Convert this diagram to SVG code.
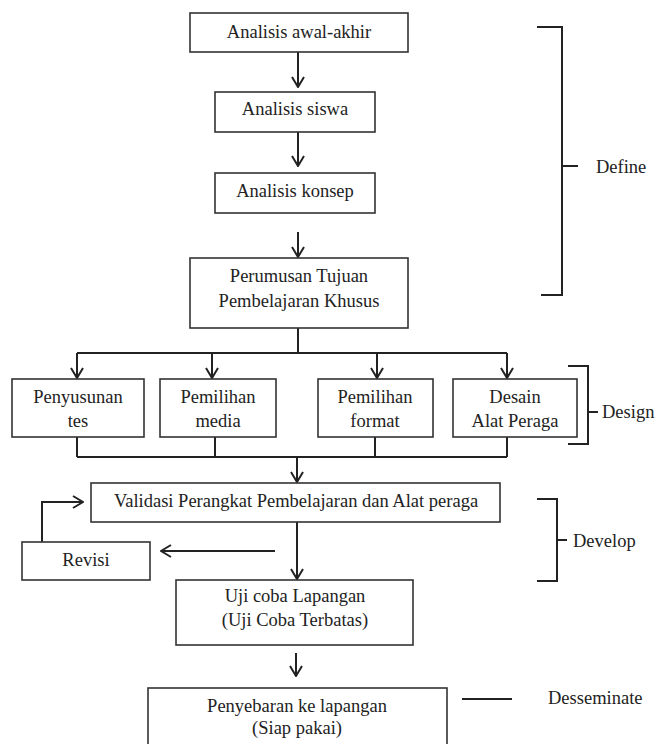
<svg xmlns="http://www.w3.org/2000/svg" width="658" height="744" viewBox="0 0 658 744">
<style>
.box{fill:#fff;stroke:#333;stroke-width:1.6}
text{font-family:'Liberation Serif','DejaVu Serif',serif;font-size:18.5px;fill:#222}
.t{text-anchor:middle}
.c{fill:none;stroke:#222;stroke-width:2}
.a{fill:none;stroke:#222;stroke-width:2;marker-end:url(#arr)}
.br{fill:none;stroke:#222;stroke-width:2}
</style>
<defs>
<marker id="arr" viewBox="0 0 12 14" refX="11" refY="7" markerWidth="12" markerHeight="14" markerUnits="userSpaceOnUse" orient="auto">
<path d="M1,1 L11,7 L1,13" fill="none" stroke="#222" stroke-width="2"/>
</marker>
</defs>
<rect width="658" height="744" fill="#fff"/>
<g id="connectors">
<path class="a" d="M298,52 L298,87"/>
<path class="a" d="M298,132 L298,166"/>
<path class="a" d="M298,232 L298,257"/>
<path class="c" d="M298,328 L298,353"/>
<path class="c" d="M77,353 L507,353"/>
<path class="a" d="M77,353 L77,378"/>
<path class="a" d="M212,353 L212,378"/>
<path class="a" d="M377,353 L377,378"/>
<path class="a" d="M507,353 L507,378"/>
<path class="c" d="M77,437 L77,457 M215,437 L215,457 M375,437 L375,457 M507,437 L507,457 M77,457 L507,457"/>
<path class="a" d="M297,457 L297,482"/>
<path class="a" d="M297,522 L297,579"/>
<path class="a" d="M275,551 L161,551"/>
<path class="a" d="M42,542 L42,502 L83,502"/>
<path class="a" d="M296,653 L296,676"/>
</g>
<g id="n1"><rect class="box" x="190" y="13" width="218" height="39"/><text class="t" x="299" y="38">Analisis awal-akhir</text></g>
<g id="n2"><rect class="box" x="215" y="92" width="160" height="40"/><text class="t" x="295" y="115">Analisis siswa</text></g>
<g id="n3"><rect class="box" x="215" y="173" width="160" height="40"/><text class="t" x="295" y="197">Analisis konsep</text></g>
<g id="n4"><rect class="box" x="190" y="258" width="218" height="70"/><text class="t" x="299" y="282">Perumusan Tujuan</text><text class="t" x="299" y="307">Pembelajaran Khusus</text></g>
<g id="n5"><rect class="box" x="12" y="379" width="132" height="58"/><text class="t" x="78" y="403">Penyusunan</text><text class="t" x="78" y="427">tes</text></g>
<g id="n6"><rect class="box" x="160" y="379" width="116" height="58"/><text class="t" x="218" y="403">Pemilihan</text><text class="t" x="218" y="427">media</text></g>
<g id="n7"><rect class="box" x="318" y="379" width="115" height="58"/><text class="t" x="375" y="403">Pemilihan</text><text class="t" x="375" y="427">format</text></g>
<g id="n8"><rect class="box" x="453" y="379" width="124" height="58"/><text class="t" x="515" y="403">Desain</text><text class="t" x="515" y="427">Alat Peraga</text></g>
<g id="n9"><rect class="box" x="91" y="483" width="409" height="39"/><text class="t" x="296" y="507">Validasi Perangkat Pembelajaran dan Alat peraga</text></g>
<g id="n10"><rect class="box" x="22" y="542" width="128" height="38"/><text class="t" x="86" y="566">Revisi</text></g>
<g id="n11"><rect class="box" x="176" y="580" width="237" height="65"/><text class="t" x="295" y="602">Uji coba Lapangan</text><text class="t" x="295" y="626">(Uji Coba Terbatas)</text></g>
<g id="n12"><rect class="box" x="148" y="688" width="299" height="60"/><text class="t" x="297" y="712">Penyebaran ke lapangan</text><text class="t" x="297" y="734">(Siap pakai)</text></g>
<g id="define"><path class="br" d="M537,27 L562,27 L562,295 L541,295 M562,166 L578,166"/><text x="596" y="173">Define</text></g>
<g id="design"><path class="br" d="M568,366 L588,366 L588,444 L568,444 M588,412 L598,412"/><text x="602" y="418">Design</text></g>
<g id="develop"><path class="br" d="M537,499 L557,499 L557,581 L537,581 M557,540 L567,540"/><text x="573" y="547">Develop</text></g>
<g id="disseminate"><path class="br" d="M462,699 L512,699"/><text x="548" y="704">Desseminate</text></g>
</svg>
